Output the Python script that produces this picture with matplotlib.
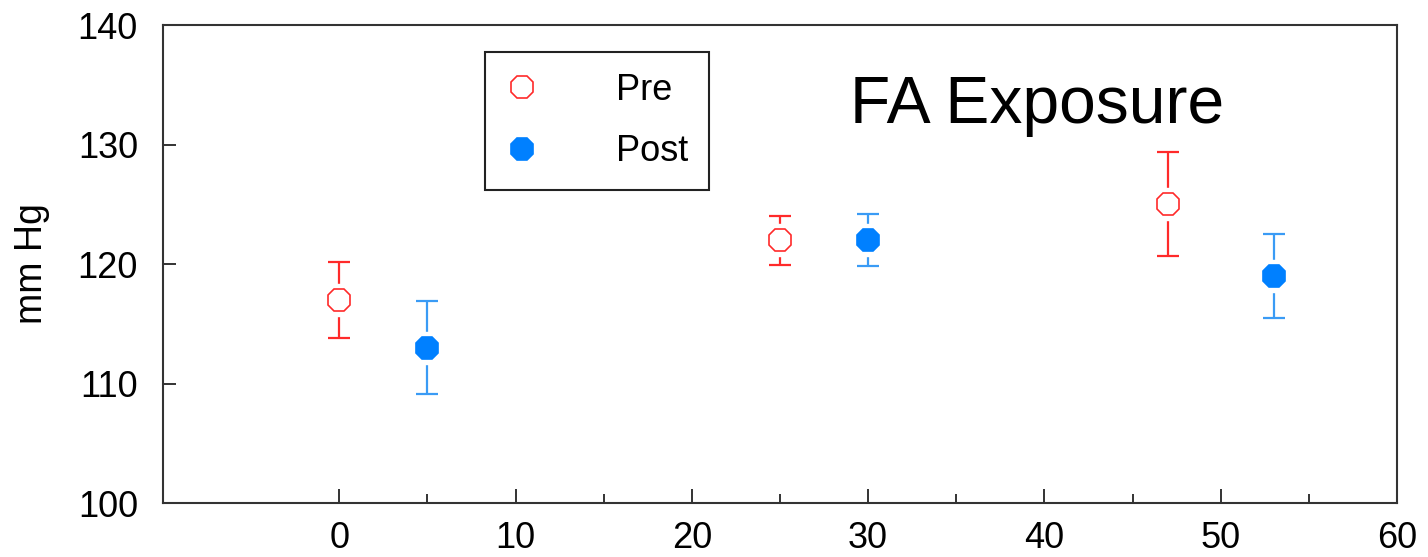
import matplotlib
matplotlib.use("Agg")
import matplotlib.pyplot as plt
from matplotlib.ticker import FixedLocator

plt.rcParams['font.family'] = ['Liberation Sans', 'DejaVu Sans']

# Blood pressure before and after FA exposure
pre_x = [0, 25, 47]
pre_y = [117, 122, 125]
pre_err = [3.2, 2.05, 4.35]

post_x = [5, 30, 53]
post_y = [113, 122, 119]
post_err = [3.9, 2.15, 3.5]

x_ticks = [0, 10, 20, 30, 40, 50, 60]
x_minor = [5, 15, 25, 35, 45, 55]
y_ticks = [100, 110, 120, 130, 140]

red = '#FF2A2A'
blue_mark = '#0080FF'
blue_bar = '#3A9BF5'

fig = plt.figure(figsize=(14.28, 5.57), dpi=100)
ax = fig.add_axes([0.1141, 0.0969, 0.8642, 0.8581])

ms = 17.5
for xs, ys, es, ecol, mfc, mec, lab in [
    (pre_x, pre_y, pre_err, red, 'white', red, 'Pre'),
    (post_x, post_y, post_err, blue_bar, blue_mark, blue_mark, 'Post'),
]:
    ax.errorbar(xs, ys, yerr=es, fmt='none', ecolor=ecol, elinewidth=1.6,
                capsize=8, capthick=1.6, zorder=2)
    # white halo leaves a small gap between the bars and the marker
    ax.plot(xs, ys, ls='none', marker='8', ms=ms + 7, mfc='white',
            mec='white', zorder=3)
    ax.plot(xs, ys, ls='none', marker='8', ms=ms, mfc=mfc, mec=mec,
            mew=1.2, zorder=4, label=lab)

ax.set_xlim(-10, 60)
ax.set_ylim(100, 140)
ax.set_xticks(x_ticks)
ax.set_yticks(y_ticks)
ax.xaxis.set_minor_locator(FixedLocator(x_minor))

for s in ax.spines.values():
    s.set_linewidth(1.5)
    s.set_color('#333333')

ax.tick_params(axis='both', which='major', direction='in', labelsize=26,
               width=1.4, color='#333333', labelcolor='black')
ax.tick_params(axis='x', which='major', length=10, pad=13)
ax.tick_params(axis='x', which='minor', direction='in', length=6.5,
               width=1.4, color='#333333')
ax.tick_params(axis='y', which='major', length=9.5, pad=18)

ax.set_ylabel('mm Hg', fontsize=27, labelpad=20)

ax.text(850 / 1428, 1 - 123 / 557, 'FA Exposure', transform=fig.transFigure,
        fontsize=47.5, ha='left', va='baseline', color='black')

leg = ax.legend(loc='upper left', bbox_to_anchor=(485 / 1428, 1 - 52 / 557),
                bbox_transform=fig.transFigure, fontsize=26, frameon=True,
                fancybox=False, framealpha=1, edgecolor='#222222',
                borderpad=0.58, handlelength=0.9, handletextpad=2.15,
                labelspacing=0.73, borderaxespad=0)
leg.get_frame().set_linewidth(1.5)

fig.savefig('out.png', dpi=100)
